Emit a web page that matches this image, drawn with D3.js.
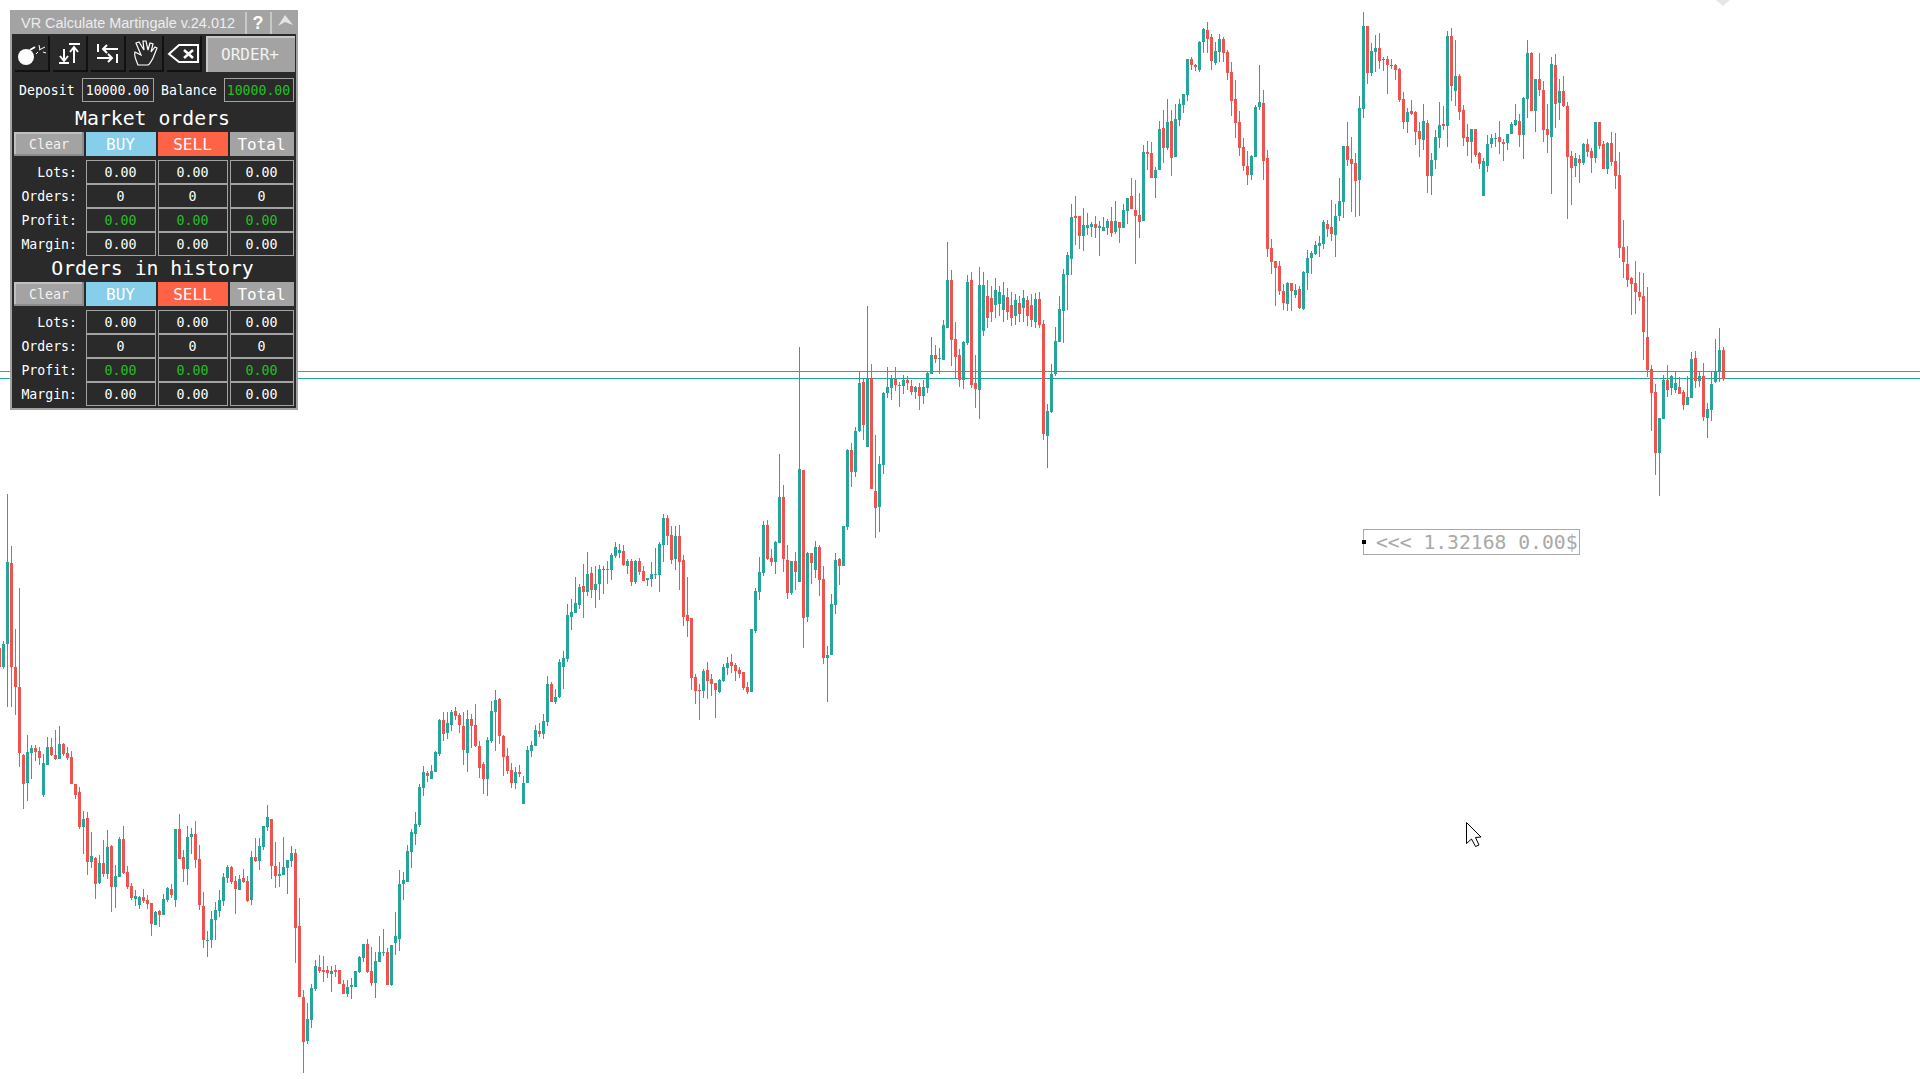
<!DOCTYPE html>
<html>
<head>
<meta charset="utf-8">
<title>VR Calculate Martingale</title>
<script src="https://cdn.jsdelivr.net/npm/d3@7/dist/d3.min.js"></script>
<style>
  html, body { margin: 0; padding: 0; background: #fff; overflow: hidden; }
  svg { display: block; }
</style>
</head>
<body>
<div id="chart-area"></div>
<script>
// candle prices in points, ten candles per line, oldest first
const openPts = [
  1352,1333,1356,1437,1333,1313,1245,1217,1247,1252,
  1249,1205,1235,1253,1245,1241,1256,1247,1243,1216,
  1208,1173,1182,1138,1142,1117,1137,1126,1154,1113,
  1123,1161,1128,1114,1101,1095,1103,1100,1097,1075,
  1089,1085,1100,1111,1100,1171,1143,1131,1163,1166,
  1141,1094,1059,1060,1080,1089,1099,1122,1133,1119,
  1110,1122,1119,1100,1143,1139,1153,1173,1181,1134,
  1124,1125,1132,1139,1147,1074,1003,959,980,1011,
  1033,1030,1030,1026,1030,1030,1016,1006,1013,1013,
  1028,1042,1056,1029,1017,1038,1047,1048,1015,1057,
  1061,1116,1118,1148,1166,1175,1212,1227,1221,1228,
  1246,1280,1267,1275,1289,1285,1274,1247,1281,1275,
  1254,1236,1221,1259,1288,1301,1264,1244,1230,1217,
  1228,1196,1217,1249,1254,1269,1266,1278,1316,1298,
  1303,1333,1341,1383,1387,1395,1414,1408,1427,1410,
  1416,1430,1431,1430,1444,1447,1449,1434,1439,1418,
  1439,1429,1420,1421,1425,1425,1455,1482,1465,1441,
  1464,1440,1385,1382,1323,1310,1309,1330,1321,1317,
  1308,1319,1332,1338,1335,1330,1328,1313,1308,1369,
  1408,1427,1475,1442,1438,1457,1503,1440,1407,1439,
  1418,1530,1383,1447,1430,1453,1421,1342,1345,1395,
  1441,1434,1473,1550,1528,1569,1618,1553,1622,1509,
  1493,1535,1607,1612,1621,1615,1614,1620,1614,1608,
  1613,1604,1612,1626,1645,1641,1640,1672,1720,1661,
  1645,1620,1657,1720,1617,1610,1669,1704,1702,1695,
  1696,1690,1703,1695,1684,1697,1692,1700,1695,1678,
  1701,1676,1564,1588,1626,1658,1689,1725,1741,1784,
  1784,1764,1772,1773,1776,1772,1769,1772,1779,1768,
  1778,1772,1789,1804,1790,1785,1779,1848,1847,1822,
  1830,1872,1852,1879,1843,1880,1895,1905,1941,1935,
  1930,1958,1970,1963,1937,1948,1961,1948,1928,1901,
  1878,1853,1834,1825,1843,1893,1897,1842,1752,1739,
  1734,1709,1696,1717,1705,1711,1691,1727,1742,1746,
  1754,1756,1776,1773,1765,1784,1798,1854,1841,1837,
  1820,1891,1974,1927,1948,1952,1940,1941,1935,1935,
  1931,1901,1878,1889,1888,1869,1860,1877,1824,1840,
  1862,1876,1874,1964,1909,1924,1890,1863,1858,1871,
  1847,1804,1834,1856,1861,1863,1858,1857,1866,1875,
  1879,1865,1901,1947,1889,1921,1910,1871,1863,1935,
  1897,1909,1894,1844,1834,1841,1837,1856,1849,1842,
  1878,1856,1831,1857,1839,1825,1753,1736,1722,1717,
  1708,1704,1663,1631,1608,1547,1581,1620,1612,1610,
  1613,1608,1595,1602,1642,1619,1624,1582,1590,1618,1628,1650
];
const highPts = [
  1352,1359,1506,1454,1371,1412,1246,1265,1255,1255,
  1253,1246,1263,1262,1270,1274,1257,1253,1249,1216,
  1213,1189,1188,1168,1143,1145,1160,1170,1155,1135,
  1163,1174,1134,1117,1110,1104,1111,1105,1097,1089,
  1090,1106,1113,1116,1171,1186,1150,1174,1172,1179,
  1155,1108,1069,1089,1098,1110,1127,1135,1134,1124,
  1125,1131,1124,1149,1162,1162,1174,1195,1181,1158,
  1138,1163,1140,1154,1151,1102,1010,997,1016,1040,
  1045,1044,1034,1034,1035,1030,1020,1020,1022,1029,
  1044,1056,1061,1053,1048,1064,1071,1052,1055,1088,
  1130,1128,1155,1171,1188,1216,1234,1229,1235,1249,
  1281,1288,1288,1290,1293,1287,1288,1290,1286,1296,
  1259,1238,1263,1299,1310,1302,1265,1252,1237,1233,
  1235,1224,1254,1259,1275,1277,1286,1324,1318,1311,
  1341,1349,1396,1401,1423,1416,1436,1448,1433,1434,
  1435,1434,1439,1447,1458,1456,1455,1441,1441,1440,
  1442,1434,1422,1438,1452,1458,1486,1485,1474,1474,
  1475,1445,1423,1382,1326,1316,1331,1338,1326,1317,
  1321,1336,1343,1346,1337,1333,1328,1318,1371,1412,
  1443,1479,1480,1451,1459,1546,1515,1455,1439,1448,
  1653,1530,1448,1447,1459,1455,1434,1354,1406,1447,
  1442,1474,1551,1557,1573,1629,1621,1694,1636,1565,
  1544,1608,1633,1625,1633,1618,1625,1624,1620,1614,
  1617,1620,1628,1663,1655,1652,1680,1758,1730,1678,
  1651,1659,1725,1728,1645,1733,1728,1720,1714,1722,
  1714,1718,1712,1708,1706,1704,1710,1704,1706,1707,
  1708,1680,1596,1636,1673,1704,1731,1748,1796,1804,
  1784,1792,1787,1778,1784,1779,1783,1781,1793,1799,
  1778,1796,1802,1822,1820,1807,1855,1859,1858,1833,
  1879,1890,1901,1890,1896,1901,1906,1941,1943,1936,
  1959,1972,1978,1966,1958,1966,1963,1950,1938,1920,
  1889,1862,1849,1845,1895,1935,1910,1850,1761,1739,
  1739,1716,1718,1717,1716,1714,1729,1750,1749,1759,
  1764,1780,1780,1800,1796,1822,1854,1878,1863,1847,
  1904,1988,1974,1957,1965,1967,1943,1944,1941,1936,
  1932,1908,1892,1900,1889,1878,1896,1880,1847,1870,
  1898,1894,1969,1972,1960,1926,1895,1876,1871,1871,
  1848,1842,1865,1866,1867,1879,1861,1866,1878,1896,
  1886,1903,1960,1948,1921,1947,1919,1896,1943,1946,
  1921,1924,1898,1849,1847,1845,1857,1861,1852,1878,
  1878,1859,1858,1868,1867,1848,1780,1754,1723,1739,
  1728,1727,1713,1635,1616,1582,1625,1635,1625,1628,
  1623,1610,1624,1648,1649,1628,1637,1597,1628,1661,1672,1653
];
const lowPts = [
  1333,1331,1293,1293,1285,1233,1191,1199,1221,1239,
  1235,1203,1235,1244,1240,1241,1244,1240,1216,1201,
  1171,1146,1125,1132,1101,1116,1123,1121,1088,1092,
  1123,1126,1111,1100,1094,1091,1097,1091,1064,1075,
  1073,1085,1098,1102,1093,1141,1118,1115,1146,1132,
  1090,1052,1043,1052,1060,1083,1094,1117,1116,1086,
  1110,1117,1098,1095,1138,1130,1150,1169,1121,1112,
  1113,1125,1106,1133,1037,1003,927,956,972,1009,
  1027,1018,1022,1008,1023,1016,1006,1003,1001,1013,
  1027,1038,1027,1014,1002,1038,1044,1015,1014,1045,
  1049,1100,1118,1132,1155,1173,1204,1218,1221,1228,
  1244,1259,1261,1269,1280,1267,1235,1228,1252,1253,
  1222,1206,1204,1257,1249,1256,1224,1226,1212,1211,
  1223,1196,1217,1243,1254,1263,1261,1274,1298,1296,
  1302,1311,1338,1370,1387,1391,1382,1404,1402,1392,
  1400,1406,1416,1420,1442,1442,1434,1426,1414,1416,
  1425,1419,1414,1413,1421,1408,1438,1455,1436,1430,
  1410,1374,1363,1310,1296,1280,1302,1301,1304,1282,
  1307,1318,1325,1327,1319,1322,1310,1306,1308,1367,
  1400,1424,1440,1434,1426,1457,1428,1401,1405,1410,
  1418,1352,1378,1416,1422,1404,1336,1298,1345,1386,
  1415,1434,1470,1513,1523,1568,1560,1553,1511,1462,
  1468,1526,1602,1600,1609,1593,1606,1610,1605,1601,
  1590,1596,1607,1626,1637,1626,1640,1672,1634,1622,
  1613,1611,1655,1612,1592,1581,1664,1672,1678,1682,
  1684,1678,1680,1674,1675,1678,1678,1674,1673,1672,
  1672,1560,1532,1587,1624,1658,1657,1690,1725,1755,
  1751,1749,1765,1763,1762,1744,1769,1765,1763,1766,
  1757,1772,1776,1791,1736,1762,1779,1830,1822,1802,
  1830,1837,1850,1824,1843,1874,1887,1899,1930,1929,
  1928,1947,1947,1930,1935,1938,1938,1920,1884,1862,
  1844,1829,1815,1820,1843,1890,1820,1743,1726,1694,
  1705,1690,1689,1689,1702,1691,1690,1710,1726,1745,
  1743,1751,1763,1759,1743,1779,1782,1834,1788,1783,
  1784,1882,1916,1924,1928,1931,1929,1906,1931,1920,
  1898,1871,1867,1885,1855,1843,1850,1807,1805,1831,
  1852,1870,1853,1899,1894,1880,1854,1844,1837,1843,
  1831,1804,1828,1852,1853,1846,1839,1850,1866,1874,
  1853,1841,1882,1889,1868,1904,1858,1847,1806,1872,
  1880,1893,1781,1795,1823,1817,1835,1843,1827,1837,
  1851,1831,1826,1834,1811,1742,1722,1713,1685,1686,
  1699,1640,1623,1569,1525,1504,1581,1603,1605,1607,
  1606,1590,1595,1602,1612,1613,1579,1562,1579,1617,1618,1619
];
const closePts = [
  1333,1356,1438,1333,1313,1247,1216,1248,1252,1248,
  1242,1237,1253,1245,1241,1256,1246,1242,1216,1205,
  1173,1181,1138,1144,1116,1137,1126,1153,1113,1124,
  1161,1127,1113,1102,1104,1103,1099,1096,1076,1088,
  1085,1101,1112,1105,1171,1141,1131,1163,1166,1140,
  1095,1060,1060,1081,1090,1100,1123,1133,1118,1111,
  1121,1118,1099,1143,1139,1154,1174,1183,1134,1124,
  1126,1133,1140,1147,1072,1003,958,981,1012,1034,
  1029,1028,1027,1029,1028,1016,1006,1013,1015,1029,
  1043,1056,1028,1017,1039,1048,1048,1015,1055,1064,
  1116,1120,1149,1168,1176,1213,1228,1224,1229,1248,
  1280,1266,1277,1288,1284,1275,1250,1281,1274,1254,
  1232,1221,1260,1289,1300,1264,1243,1229,1217,1228,
  1226,1217,1250,1255,1270,1266,1279,1316,1298,1303,
  1338,1342,1385,1388,1397,1413,1408,1426,1410,1416,
  1431,1431,1430,1445,1453,1450,1435,1439,1418,1439,
  1428,1419,1422,1426,1426,1456,1482,1464,1440,1464,
  1438,1383,1379,1322,1309,1309,1329,1319,1316,1310,
  1320,1333,1337,1334,1329,1326,1312,1308,1371,1409,
  1428,1475,1441,1438,1458,1503,1441,1407,1439,1428,
  1531,1382,1447,1437,1453,1420,1342,1345,1396,1440,
  1434,1474,1550,1528,1569,1617,1575,1621,1511,1492,
  1536,1607,1613,1621,1615,1614,1620,1617,1608,1613,
  1604,1613,1627,1645,1641,1642,1675,1720,1660,1643,
  1620,1658,1718,1615,1611,1715,1715,1682,1688,1710,
  1708,1705,1688,1682,1700,1686,1702,1684,1680,1701,
  1675,1566,1589,1626,1659,1691,1726,1745,1783,1782,
  1764,1775,1775,1776,1772,1774,1773,1779,1767,1779,
  1772,1790,1802,1791,1784,1778,1848,1846,1822,1830,
  1871,1852,1878,1842,1881,1896,1906,1941,1935,1933,
  1958,1971,1961,1939,1949,1961,1947,1927,1899,1877,
  1852,1834,1825,1844,1893,1898,1839,1751,1738,1732,
  1709,1697,1717,1709,1710,1692,1728,1742,1747,1755,
  1757,1778,1771,1766,1784,1799,1854,1840,1836,1819,
  1892,1974,1927,1949,1952,1939,1941,1935,1934,1930,
  1900,1878,1888,1886,1868,1861,1879,1824,1840,1863,
  1875,1874,1964,1914,1924,1888,1862,1858,1871,1845,
  1836,1839,1856,1862,1862,1858,1856,1866,1876,1880,
  1865,1902,1947,1889,1921,1910,1870,1865,1936,1896,
  1909,1894,1843,1832,1842,1837,1856,1848,1842,1878,
  1854,1831,1857,1838,1824,1752,1738,1720,1716,1708,
  1703,1668,1630,1607,1547,1582,1620,1610,1624,1617,
  1606,1595,1603,1641,1619,1624,1583,1591,1616,1629,1650,1621
];

// bid and ask lines, in the same points
const priceLines = [1629, 1622];

// panel text
const panelTitle = "VR Calculate Martingale v.24.012";
const depositValue = "10000.00";
const balanceValue = "10000.00";
const columnNames = ["BUY", "SELL", "Total"];
const rowNames = ["Lots:", "Orders:", "Profit:", "Margin:"];
const rowValues = ["0.00", "0", "0.00", "0.00"];
const tagText = "<<< 1.32168 0.00$";

const upColor = "#26a69a";
const downColor = "#ef5350";
const panelGray = "#a3a3a3";
const panelDark = "#2a2a2a";
const profitGreen = "#25c025";
const mono = "'DejaVu Sans Mono', monospace";

let width = 1920,
    height = 1079;

let svg = d3.select("#chart-area").append("svg")
    .attr("width", width)
    .attr("height", height);

// Scales
let x = d3.scaleLinear()
    .domain([0, openPts.length - 1])
    .range([-1, 1723]);

let y = d3.scaleLinear()
    .domain([921, 2000])
    .range([height, 0]);

let indexes = d3.range(openPts.length);
let candleColor = i => closePts[i] >= openPts[i] ? upColor : downColor;

// Bid / ask lines
svg.append("g").selectAll("rect")
    .data(priceLines)
  .enter().append("rect")
    .attr("x", 0)
    .attr("y", d => y(d))
    .attr("width", width)
    .attr("height", 1)
    .attr("fill", (d, i) => i == 0 ? downColor : upColor);

// Wicks and bodies
let candles = svg.append("g").attr("shape-rendering", "crispEdges");

candles.selectAll(".wick")
    .data(indexes)
  .enter().append("rect")
    .attr("class", "wick")
    .attr("x", i => x(i))
    .attr("y", i => y(highPts[i]))
    .attr("width", 1)
    .attr("height", i => y(lowPts[i]) - y(highPts[i]))
    .attr("fill", candleColor);

candles.selectAll(".body")
    .data(indexes)
  .enter().append("rect")
    .attr("class", "body")
    .attr("x", i => x(i) - 1)
    .attr("y", i => y(Math.max(openPts[i], closePts[i])))
    .attr("width", 3)
    .attr("height", i => Math.max(1, Math.abs(y(openPts[i]) - y(closePts[i]))))
    .attr("fill", candleColor);

// little gray marker cut by the top edge
svg.append("path")
    .attr("d", "M1716,0L1723,6L1730,0Z")
    .attr("fill", "#e6e6e6");

// Panel
let panel = svg.append("g");

function box(x0, y0, w, h, fill, stroke) {
    return panel.append("rect")
        .attr("x", x0 + (stroke ? 0.5 : 0))
        .attr("y", y0 + (stroke ? 0.5 : 0))
        .attr("width", w)
        .attr("height", h)
        .attr("fill", fill)
        .attr("stroke", stroke || "none");
}

function label(txt, x0, y0, size, color, anchor, family) {
    return panel.append("text")
        .attr("x", x0)
        .attr("y", y0)
        .attr("font-family", family || mono)
        .attr("font-size", size)
        .attr("fill", color)
        .attr("text-anchor", anchor || "middle")
        .text(txt);
}

function icon(d, sw) {
    panel.append("path")
        .attr("d", d)
        .attr("fill", "none")
        .attr("stroke", "#fff")
        .attr("stroke-width", sw || 2);
}

box(10, 10, 288, 400, panelGray);
box(12, 34, 284, 374, panelDark);

// title bar
panel.append("rect").attr("x", 245).attr("y", 12).attr("width", 2).attr("height", 22).attr("fill", "#c8c8c8");
panel.append("rect").attr("x", 270).attr("y", 12).attr("width", 2).attr("height", 22).attr("fill", "#c8c8c8");
label(panelTitle, 21, 28, 14.45, "#ededed", "start", "'Liberation Sans', sans-serif");
label("?", 258, 29, 18, "#fff", "middle", "'Liberation Sans', sans-serif").attr("font-weight", "bold");
panel.append("path").attr("d", "M278,26L285,15L293,25L285,22Z").attr("fill", "#e4e4e4");

// tool buttons
[15, 53, 91, 129, 167].forEach(bx => {
    box(bx, 36, 35, 36, "#111");
    box(bx, 36, 33, 34, panelDark);
});

// bomb
panel.append("circle").attr("cx", 26).attr("cy", 57).attr("r", 8).attr("fill", "#fff");
icon("M30,50L35,47", 2);
icon("M39,50L45,47M39,45L40,50M43,52L46,53M38,52L36,54", 1);
// down and up arrows
icon("M64,49V61M60,56L64,61L68,56M59,63H69M74,63V47M70,52L74,47L78,52M69,44H80");
// swap arrows
icon("M98,44V52M118,49H103M107,45L103,49L107,53M97,58H112M108,54L112,58L108,62M117,54V63");
// hand
icon("M138,65C135,58 134,54 135,52L141,55L136,43L139,42L144,50L143,41H146L148,50L150,43L153,44L151,52L155,47L157,48L153,58C151,62 150,64 148,65Z", 1.2);
// backspace
icon("M169,54L179,45H198V62H179Z");
icon("M184,50L193,58M193,50L184,58", 2.5);

// ORDER+ button
box(206, 36, 89, 36, "#c8c8c8");
box(208, 38, 87, 34, panelGray);
label("ORDER+", 250, 60, 16, "#f2f2f2");

// deposit row
label("Deposit", 19, 95, 13.2, "#fff", "start");
box(82, 78, 71, 23, panelDark, panelGray);
label(depositValue, 117.5, 95, 13.2, "#fff");
label("Balance", 161, 95, 13.2, "#fff", "start");
box(224, 78, 69, 23, panelDark, panelGray);
label(balanceValue, 258.5, 95, 13.2, profitGreen);

// the two order blocks are the same apart from where they sit
function orderBlock(heading, top) {
    label(heading, 152.5, top + 7, 19.8, "#fff");

    let by = top + 14;
    box(14, by, 70, 24, "#8c8c8c");
    box(14, by, 68, 22, "#c0c0c0");
    box(16, by + 2, 66, 20, panelGray);
    label("Clear", 49, by + 17, 13.3, "#f2f2f2");

    let cols = [[86, 70, "#87ceeb"], [158, 70, "#ff6347"], [230, 64, panelGray]];
    cols.forEach((c, i) => {
        box(c[0], by, c[1], 24, c[2]);
        label(columnNames[i], c[0] + c[1] / 2 - 0.5, by + 18, 16, "#fff");
    });

    rowNames.forEach((name, r) => {
        let ry = by + 28 + r * 24;
        label(name, 77, ry + 17, 13.2, "#fff", "end");
        cols.forEach(c => {
            box(c[0], ry, c[1] - 1, 23, panelDark, panelGray);
            label(rowValues[r], c[0] + c[1] / 2 - 0.5, ry + 17, 13.3, r == 2 ? profitGreen : "#fff");
        });
    });
}

orderBlock("Market orders", 118);
orderBlock("Orders in history", 268);

// order tag
let tag = svg.append("g");
tag.append("rect")
    .attr("x", 1363.5).attr("y", 529.5)
    .attr("width", 216).attr("height", 25)
    .attr("fill", "#fff").attr("stroke", "#a9a9a9");
tag.append("rect")
    .attr("x", 1362).attr("y", 540)
    .attr("width", 4).attr("height", 4)
    .attr("fill", "#000");
tag.append("text")
    .attr("x", 1376).attr("y", 549)
    .attr("font-family", mono)
    .attr("font-size", 19.7)
    .attr("fill", "#a9a9a9")
    .text(tagText);

// mouse pointer
svg.append("path")
    .attr("d", "M1466.5,822.5V843.5L1471.5,839L1475.5,846.5L1479,845L1475.5,837.5L1481,837Z")
    .attr("fill", "#fff")
    .attr("stroke", "#000")
    .attr("stroke-width", 1);
</script>
</body>
</html>
